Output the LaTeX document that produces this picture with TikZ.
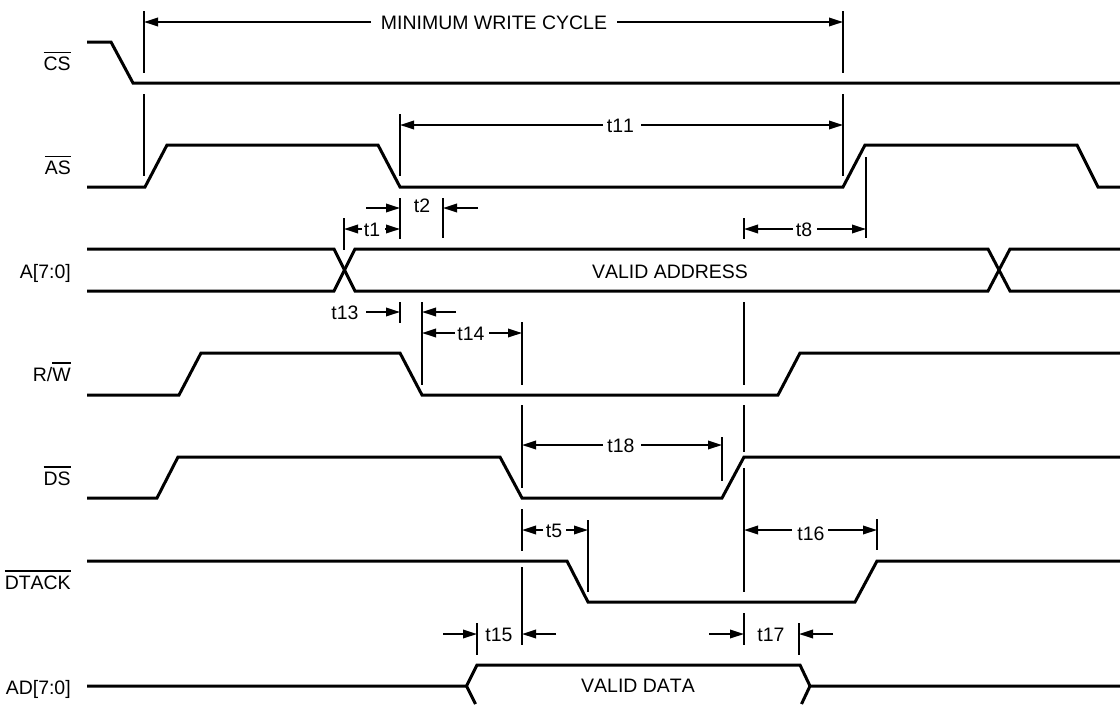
\documentclass[tikz,border=0pt]{standalone}
\usepackage{fontspec}
\setmainfont[Kerning=Off]{Liberation Sans}
\usetikzlibrary{arrows.meta}
\newcommand\ovl[1]{\leavevmode\setbox0\hbox{#1}\rlap{\raisebox{12.9pt}{\rule{\wd0}{1.1pt}}}\box0}
\tikzset{
  wave/.style={line width=2.25pt,line join=miter,miter limit=10},
  tick/.style={line width=1.5pt},
  dim/.style={line width=1.3pt,-{Triangle[length=10.5pt,width=6.4pt]}},
  sig/.style={anchor=base east,inner sep=0pt},
  lab/.style={anchor=base,inner sep=0pt}
}
\begin{document}
\begin{tikzpicture}[x=0.75pt,y=-0.75pt,every node/.style={font=\fontsize{14.6pt}{17pt}\selectfont}]
\useasboundingbox (0,0) rectangle (1120,704);
\fill[white] (0,0) rectangle (1120,704);
% signal names
\node[sig] (cs) at (71,70.5) {\ovl{CS}};
\node[sig] (as) at (71,174.5) {\ovl{AS}};
\node[sig] (a) at (71,278) {A[7:0]};
\node[sig] (rw) at (71,381) {R/\ovl{W}};
\node[sig] (ds) at (71,485) {\ovl{DS}};
\node[sig] (dtack) at (71,589) {\ovl{DTACK}};
\node[sig] (ad) at (71,694) {AD[7:0]};
% waveforms
\draw[wave] (87,42)--(111,42)--(133,83)--(1120,83);
\draw[wave] (87,187)--(145,187)--(167,145)--(378,145)--(400,187)--(843,187)--(865,145)--(1077,145)--(1098,187)--(1120,187);
\draw[wave] (87,249)--(334,249)--(355,291)--(988,291)--(1010,249)--(1120,249);
\draw[wave] (87,291)--(334,291)--(355,249)--(988,249)--(1010,291)--(1120,291);
\draw[wave] (87,395)--(179,395)--(201,353)--(400,353)--(422,395)--(778,395)--(800,353)--(1120,353);
\draw[wave] (87,498)--(157,498)--(178,457)--(500,457)--(522,498)--(722,498)--(744,457)--(1120,457);
\draw[wave] (87,561)--(567,561)--(588,602)--(855,602)--(877,561)--(1120,561);
\draw[wave] (87,686)--(466.5,686)--(477,665)--(800,665)--(810,686)--(1120,686);
\draw[wave] (475.5,704)--(466.5,686);
\draw[wave] (801.5,704)--(810,686);
% ticks
\foreach \x/\a/\b in {144/11/73,144/94/176,843/11/73,843/94/176,
  400/114/176,400/198/239,400/302/323,443/198/238,344/218/250,
  422/302/385,522/322/385,522/405/488,522/509/551,522/567/645,
  744/218/239,744/302/385,744/405/452,744/468/592,744/613/645,
  866/157/238,722/437/481,588/520/592,877/519/550,477/623/655,799/623/655}
  \draw[tick] (\x,\a)--(\x,\b);
% dimension arrows
\coordinate (mwl) at (371,22); \coordinate (mwr) at (617,22);
\draw[dim] (mwl)--(144,22);
\draw[dim] (mwr)--(843,22);
\draw[dim] (603,125)--(400,125);
\draw[dim] (641,125)--(843,125);
\draw[dim] (366,208)--(400,208);
\draw[dim] (478,208)--(443,208);
\draw[dim] (362,229)--(344,229);
\draw[dim] (385,229)--(400,229);
\draw[dim] (366,312)--(400,312);
\draw[dim] (456,312)--(422,312);
\draw[dim] (455,333)--(422,333);
\draw[dim] (489,333)--(522,333);
\draw[dim] (793,229)--(744,229);
\draw[dim] (817,229)--(866,229);
\draw[dim] (603,445)--(522,445);
\draw[dim] (641,445)--(722,445);
\draw[dim] (543,530)--(522,530);
\draw[dim] (566,530)--(588,530);
\draw[dim] (792,530)--(744,530);
\draw[dim] (828,530)--(877,530);
\draw[dim] (443,634)--(477,634);
\draw[dim] (556,634)--(522,634);
\draw[dim] (709,634)--(744,634);
\draw[dim] (833,634)--(799,634);
% labels
\node[lab] (mw) at (494,29) {MINIMUM WRITE CYCLE};
\node[lab] (t11) at (620.5,132) {t11};
\node[lab] (t2) at (422,212) {t2};
\node[lab] (t1) at (372,236) {t1};
\node[lab] (t13) at (345,319) {t13};
\node[lab] (t14) at (471,340) {t14};
\node[lab] (t8) at (804,236) {t8};
\node[lab] (t18) at (621,452) {t18};
\node[lab] (t5) at (554,537) {t5};
\node[lab] (t16) at (811,540) {t16};
\node[lab] (t15) at (499,641) {t15};
\node[lab] (t17) at (771,641) {t17};
\node[lab] (va) at (670,278) {VALID ADDRESS};
\node[lab] (vd) at (638,692) {VALID DATA};
\end{tikzpicture}
\end{document}
